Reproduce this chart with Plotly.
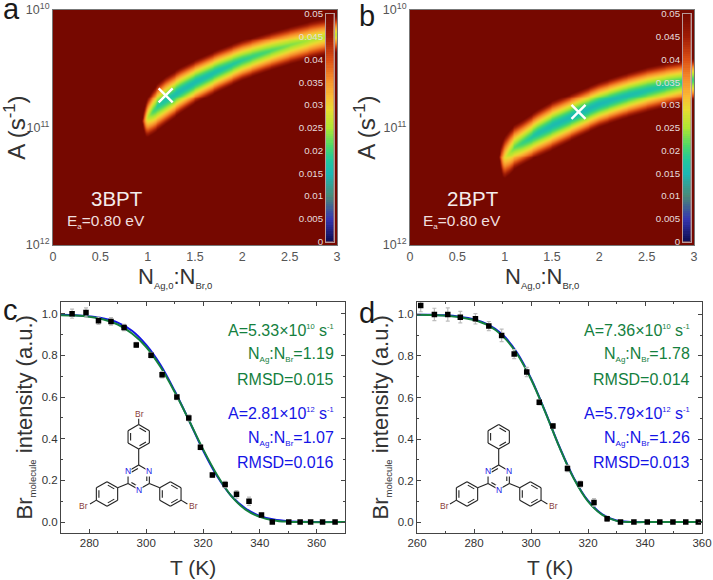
import numpy as np
import plotly.graph_objects as go

W, H = 713, 580
FONT = "Liberation Sans"

# --- maps: band edges (exponent of A) and lowest RMSD along the ridge
ridge_x = [0.95, 0.96, 0.98, 1.0, 1.05, 1.1, 1.19, 1.35, 1.5, 1.75, 2.0, 2.25, 2.5, 2.75, 3.0]
a_top = [10.942, 10.879, 10.817, 10.772, 10.709, 10.658, 10.596, 10.516, 10.454, 10.363, 10.284, 10.221, 10.165, 10.113, 10.071]
a_bot = [10.953, 11.007, 11.055, 11.058, 11.030, 11.001, 10.945, 10.851, 10.772, 10.667, 10.573, 10.502, 10.440, 10.386, 10.340]
a_min = [0.045, 0.04, 0.032, 0.026, 0.021, 0.0185, 0.0165, 0.0155, 0.0155, 0.0165, 0.0185, 0.0205, 0.023, 0.025, 0.027]
b_top = [11.248, 11.177, 11.135, 11.101, 11.050, 11.007, 10.965, 10.879, 10.809, 10.723, 10.638, 10.573, 10.516, 10.474, 10.440]
b_bot = [11.262, 11.333, 11.399, 11.410, 11.376, 11.333, 11.291, 11.220, 11.163, 11.064, 10.970, 10.902, 10.845, 10.794, 10.746]
b_min = [0.045, 0.04, 0.034, 0.029, 0.025, 0.022, 0.0195, 0.0165, 0.0155, 0.015, 0.015, 0.0155, 0.0165, 0.018, 0.020]

best_a = (1.19, 5.33e10)
best_b = (1.78, 7.36e10)

cbar_ticks = [0, 0.005, 0.01, 0.015, 0.02, 0.025, 0.03, 0.035, 0.04, 0.045, 0.05]
cbar_text = ["0", "0.005", "0.01", "0.015", "0.02", "0.025", "0.03", "0.035", "0.04", "0.045", "0.05"]
map_ticks_x = [0, 0.5, 1, 1.5, 2, 2.5, 3]
map_text_x = ["0", "0.5", "1", "1.5", "2", "2.5", "3"]

colorscale = [
    [0.00, "#0c0c50"], [0.10, "#3636b0"], [0.20, "#4a8a78"], [0.30, "#1cb8b4"],
    [0.36, "#22c89c"], [0.42, "#4cd868"], [0.50, "#aee632"], [0.58, "#e8dc30"],
    [0.64, "#fbb934"], [0.72, "#f58a2a"], [0.80, "#dc5014"], [0.90, "#a01c06"],
    [1.00, "#760800"],
]

# --- panel c
c_T = [273.9, 278.8, 283.2, 287.6, 292.2, 296.5, 301.7, 305.6, 310.8, 315.0, 319.1, 323.3, 327.8, 331.8, 336.2, 340.6, 344.4, 350.2, 354.2, 357.9, 362.1, 366.5]
c_I = [1.0, 1.006, 0.966, 0.963, 0.934, 0.85, 0.80, 0.707, 0.60, 0.50, 0.359, 0.226, 0.18, 0.133, 0.10, 0.034, 0.0, 0.0, 0.0, 0.0, 0.0, 0.0]
c_err = [0.022, 0.022, 0.018, 0.018, 0.015, 0.012, 0.012, 0.015, 0.012, 0.015, 0.012, 0.012, 0.015, 0.018, 0.02, 0.008, 0.004, 0.002, 0.002, 0.002, 0.002, 0.002]
c_fit_T = [270, 275, 280, 285, 290, 295, 300, 305, 310, 315, 320, 325, 330, 335, 340, 345, 350, 355, 370]
c_green = [0.993, 0.991, 0.985, 0.972, 0.948, 0.905, 0.84, 0.745, 0.625, 0.49, 0.35, 0.225, 0.125, 0.06, 0.025, 0.008, 0.002, 0.0, 0.0]
c_blue = [0.995, 0.993, 0.987, 0.977, 0.957, 0.918, 0.85, 0.755, 0.63, 0.49, 0.345, 0.22, 0.125, 0.065, 0.03, 0.012, 0.004, 0.001, 0.0]

# --- panel d
d_T = [261.3, 266.1, 270.8, 275.2, 280.5, 285.2, 289.7, 294.1, 298.5, 302.9, 307.7, 312.8, 317.3, 322.1, 326.7, 331.4, 336.1, 340.8, 345.2, 349.8, 354.3, 358.7]
d_I = [1.043, 1.0, 1.0, 0.987, 0.979, 0.944, 0.899, 0.809, 0.723, 0.577, 0.463, 0.258, 0.183, 0.095, 0.016, 0.0, 0.0, 0.0, 0.0, 0.0, 0.0, 0.0]
d_err = [0.03, 0.03, 0.032, 0.028, 0.025, 0.022, 0.03, 0.022, 0.022, 0.012, 0.012, 0.015, 0.015, 0.018, 0.012, 0.004, 0.002, 0.002, 0.002, 0.002, 0.002, 0.002]
d_fit_T = [260, 265, 270, 275, 280, 285, 290, 295, 300, 305, 310, 315, 320, 325, 330, 335, 340, 360]
d_green = [0.998, 0.997, 0.994, 0.987, 0.973, 0.947, 0.897, 0.812, 0.688, 0.53, 0.36, 0.21, 0.10, 0.035, 0.006, 0.0, 0.0, 0.0]
d_blue = [0.999, 0.998, 0.996, 0.989, 0.976, 0.951, 0.903, 0.818, 0.692, 0.532, 0.362, 0.213, 0.103, 0.038, 0.008, 0.001, 0.0, 0.0]

TINY = '<span style="font-size:8px">%s</span>'
SUB = '<span style="font-size:9.5px">%s</span>'
SUP = '<sup><span style="font-size:7.5px">%s</span></sup>'
c_notes = ["A=5.33×10" + SUP % "10" + " s" + SUP % "-1", "N<sub>" + TINY % "Ag" + "</sub>:N<sub>" + TINY % "Br" + "</sub>=1.19", "RMSD=0.015",
           "A=2.81×10" + SUP % "12" + " s" + SUP % "-1", "N<sub>" + TINY % "Ag" + "</sub>:N<sub>" + TINY % "Br" + "</sub>=1.07", "RMSD=0.016"]
d_notes = ["A=7.36×10" + SUP % "10" + " s" + SUP % "-1", "N<sub>" + TINY % "Ag" + "</sub>:N<sub>" + TINY % "Br" + "</sub>=1.78", "RMSD=0.014",
           "A=5.79×10" + SUP % "12" + " s" + SUP % "-1", "N<sub>" + TINY % "Ag" + "</sub>:N<sub>" + TINY % "Br" + "</sub>=1.26", "RMSD=0.013"]

GREEN = "#14803e"
BLUE = "#1414e6"
AXC = "#444444"

def px(x): return x / W
def py(y): return 1 - y / H

def field(tops, bots, mins):
    xg = np.linspace(0, 3, 300)
    eg = np.linspace(10, 12, 240)
    top = np.interp(xg, ridge_x, tops)
    bot = np.interp(xg, ridge_x, bots)
    low = np.interp(xg, ridge_x, mins)
    c = (top + bot) / 2
    hw = np.maximum((bot - top) / 2, 1e-3) * 1.16
    d = np.abs(eg[:, None] - c[None, :]) / hw[None, :]
    z = low[None, :] + (0.05 - low[None, :]) * np.clip(d, 0, 1) ** 1.3
    z[:, xg < ridge_x[0]] = 0.05
    return xg, 10.0 ** eg, z

fig = go.Figure()
annots, shapes = [], []

def note(x, y, text, size, color, xanchor="center"):
    annots.append(dict(x=px(x), y=py(y), xref="paper", yref="paper", xanchor=xanchor, yanchor="middle", text=text, showarrow=False,
                       font=dict(size=size, color=color, family=FONT)))

map_boxes = {"a": (53, 337), "b": (410, 694)}
cb_boxes = {"a": (326, 333.5), "b": (683, 690.5)}
fit_boxes = {"c": (61, 345), "d": (417, 702)}

axis_base = dict(automargin=False, showgrid=False, zeroline=False, showline=True, linecolor="#777777", linewidth=1, mirror=True)

def add_map(idx, key, tops, bots, mins, best, name, ea_x, name_x, title_x):
    xa, ya = f"x{idx}", f"y{idx}"
    xg, yg, z = field(tops, bots, mins)
    fig.add_trace(go.Heatmap(x=xg, y=yg, z=z, zmin=0, zmax=0.05, colorscale=colorscale, showscale=False, xaxis=xa, yaxis=ya))
    fig.add_trace(go.Scatter(x=[best[0]], y=[best[1]], mode="markers", xaxis=xa, yaxis=ya, showlegend=False,
                             marker=dict(symbol="x-thin", size=14, line=dict(color="white", width=2.4))))
    x0, x1 = map_boxes[key]
    fig.update_layout({
        f"xaxis{idx}": dict(axis_base, domain=[px(x0), px(x1)], range=[0, 3], anchor=ya, tickvals=map_ticks_x, ticktext=map_text_x,
                            ticks="", tickfont=dict(size=12.5, color="#555555", family=FONT)),
        f"yaxis{idx}": dict(axis_base, domain=[py(245), py(10)], type="log", range=[12, 10], anchor=xa,
                            tickvals=[1e10, 1e11, 1e12], ticktext=["10<sup>10</sup>", "10<sup>11</sup>", "10<sup>12</sup>"],
                            ticks="", tickfont=dict(size=12.5, color="#555555", family=FONT),
                            title=dict(text="A (s<sup>-1</sup>)", font=dict(size=24, color="#333333", family=FONT), standoff=0)),
    })
    note(title_x, 277, "N<sub>" + SUB % "Ag,0" + "</sub>:N<sub>" + SUB % "Br,0" + "</sub>", 22, "#333333")
    # inset colour bar
    cxa, cya = f"x{idx+1}", f"y{idx+1}"
    levels = np.linspace(0, 0.05, 101)
    fig.add_trace(go.Heatmap(x=[0], y=levels, z=[[v] for v in levels], zmin=0, zmax=0.05, colorscale=colorscale, showscale=False, xaxis=cxa, yaxis=cya))
    c0, c1 = cb_boxes[key]
    fig.update_layout({
        f"xaxis{idx+1}": dict(automargin=False, domain=[px(c0), px(c1)], anchor=cya, showticklabels=False, ticks="", showgrid=False, zeroline=False,
                              showline=True, mirror=True, linecolor="#b89a9a", linewidth=1),
        f"yaxis{idx+1}": dict(automargin=False, domain=[py(241.5), py(14)], anchor=cxa, range=[0, 0.05], tickvals=cbar_ticks, ticktext=cbar_text, ticks="",
                              tickfont=dict(size=9.7, color="#e6dcdc", family=FONT), showgrid=False, zeroline=False,
                              showline=True, mirror=True, linecolor="#b89a9a", linewidth=1),
    })
    note(name_x, 198, name, 20.5, "#f4ecec")
    note(ea_x, 221, "E<sub>" + TINY % "a" + "</sub>=0.80 eV", 15.5, "#f0dede", "left")

def add_fit(idx, key, T, I, err, fT, green, blue, xr, xt, xm0, notes, ymax, note_x, title_x):
    xa, ya = f"x{idx}", f"y{idx}"
    fig.add_trace(go.Scatter(x=fT, y=blue, mode="lines", line=dict(color=BLUE, width=2, shape="spline"), xaxis=xa, yaxis=ya, showlegend=False))
    fig.add_trace(go.Scatter(x=fT, y=green, mode="lines", line=dict(color=GREEN, width=2, shape="spline"), xaxis=xa, yaxis=ya, showlegend=False))
    fig.add_trace(go.Scatter(x=T, y=I, mode="markers", xaxis=xa, yaxis=ya, showlegend=False, cliponaxis=True,
                             marker=dict(symbol="square", size=5.5, color="black"),
                             error_y=dict(type="data", array=err, color="#bdbdbd", thickness=1.2, width=2)))
    x0, x1 = fit_boxes[key]
    common = dict(automargin=False, showgrid=False, zeroline=False, showline=True, linecolor=AXC, linewidth=1, mirror="allticks", ticks="inside",
                  ticklen=4, tickcolor=AXC, tickfont=dict(size=11.5, color="#333333", family=FONT))
    fig.update_layout({
        f"xaxis{idx}": dict(common, domain=[px(x0), px(x1)], range=xr, anchor=ya, tickvals=xt, ticktext=[str(t) for t in xt],
                            minor=dict(dtick=10, tick0=xm0, ticks="inside", ticklen=2, tickcolor=AXC)),
        f"yaxis{idx}": dict(common, domain=[py(532.5), py(302)], range=[-0.05, ymax], anchor=xa, tickvals=[0, 0.2, 0.4, 0.6, 0.8, 1.0],
                            ticktext=["0.0", "0.2", "0.4", "0.6", "0.8", "1.0"],
                            minor=dict(dtick=0.1, tick0=0, ticks="inside", ticklen=2, tickcolor=AXC),
                            title=dict(text="Br<sub>" + SUB % "molecule" + "</sub> intensity (a.u.)", font=dict(size=22, color="#333333", family=FONT), standoff=3)),
    })
    note(title_x, 567, "T (K)", 21, "#333333")
    ys = [330, 355, 379, 413, 438, 462]
    for i, (s, yy) in enumerate(zip(notes, ys)):
        note(note_x, yy, s, 16, GREEN if i < 3 else BLUE, "right")

add_map(1, "a", a_top, a_bot, a_min, best_a, "3BPT", 65, 117, 175)
add_map(3, "b", b_top, b_bot, b_min, best_b, "2BPT", 421, 473, 542)
add_fit(5, "c", c_T, c_I, c_err, c_fit_T, c_green, c_blue, [270, 370], [280, 300, 320, 340, 360], 270, c_notes, 1.056, 335.5, 193.5)
add_fit(6, "d", d_T, d_I, d_err, d_fit_T, d_green, d_blue, [260, 360], [260, 280, 300, 320, 340, 360], 260, d_notes, 1.06, 692, 549.5)

# --- molecule sketches (decoration inside panels c and d)
def seg(x0, y0, x1, y1):
    shapes.append(dict(type="line", xref="paper", yref="paper", x0=px(x0), y0=py(y0), x1=px(x1), y1=py(y1),
                       line=dict(color="#222222", width=1.1), layer="above"))

def hexagon(cx, cy, r, doubles):
    pts = [(cx + r * np.sin(np.radians(60 * k)), cy - r * np.cos(np.radians(60 * k))) for k in range(6)]
    for k in range(6):
        seg(*pts[k], *pts[(k + 1) % 6])
    for k in doubles:
        p, q = pts[k], pts[(k + 1) % 6]
        f = 0.76
        p2 = (cx + (p[0] - cx) * f, cy + (p[1] - cy) * f)
        q2 = (cx + (q[0] - cx) * f, cy + (q[1] - cy) * f)
        seg(p2[0] + (q2[0] - p2[0]) * 0.1, p2[1] + (q2[1] - p2[1]) * 0.1, q2[0] - (q2[0] - p2[0]) * 0.1, q2[1] - (q2[1] - p2[1]) * 0.1)
    return pts

def atom(x, y, s, color, bg=False):
    annots.append(dict(x=px(x), y=py(y), xref="paper", yref="paper", xanchor="center", yanchor="middle", text=s, showarrow=False,
                       font=dict(size=8.5, color=color, family=FONT), bgcolor="white" if bg else None,
                       borderpad=0))

def molecule(ox, top_br):
    cx, cy = ox + 138.7, 477.3
    r = 12.3
    hexagon(cx, cy, r, [1, 3, 5])
    tx, ty = cx, cy - 40.5
    lx, ly = cx - 31.7, cy + 16.7
    rx, ry = cx + 31.7, cy + 16.7
    for (qx, qy) in [(tx, ty), (lx, ly), (rx, ry)]:
        hexagon(qx, qy, 12.3, [0, 2, 4])
    seg(cx, cy - r, tx, ty + 12.3)
    seg(cx - r * 0.866, cy + r / 2, lx + 12.3 * 0.866, ly - 12.3 / 2)
    seg(cx + r * 0.866, cy + r / 2, rx - 12.3 * 0.866, ry - 12.3 / 2)
    seg(lx - 10.6, ly + 6.1, lx - 17, ly + 10)
    seg(rx + 10.6, ry + 6.1, rx + 17, ry + 10)
    if top_br:
        seg(tx, ty - 12.3, tx, ty - 18)
        atom(tx + 1, ty - 23, "Br", "#8a3c3c")
    atom(lx - 23, ly + 11.5, "Br", "#8a3c3c")
    atom(rx + 23, ry + 11.5, "Br", "#8a3c3c")
    atom(cx - r * 0.866, cy - r / 2, "N", BLUE, True)
    atom(cx + r * 0.866, cy - r / 2, "N", BLUE, True)
    atom(cx, cy + r, "N", BLUE, True)

molecule(0, True)
molecule(360, False)

# --- panel letters
for s, x, y in [("a", 1, 9), ("b", 357, 16), ("c", 1, 310), ("d", 357, 313)]:
    note(x, y, s, 29, "#1a1a1a", "left")

fig.update_layout(width=W, height=H, margin=dict(l=0, r=0, t=0, b=0), paper_bgcolor="white", plot_bgcolor="white",
                  showlegend=False, annotations=annots, shapes=shapes, font=dict(family=FONT))
fig.write_html("out.html", config=dict(displayModeBar=False), post_script="document.body.style.margin='0';")
